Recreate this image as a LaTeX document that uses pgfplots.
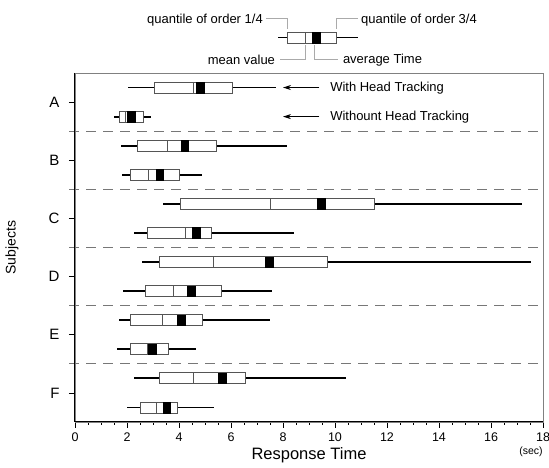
\documentclass[border=0pt]{standalone}
\usepackage{fontspec}
\setmainfont{Liberation Sans}
\usepackage{pgfplots}
\pgfplotsset{compat=1.18}
\usepgfplotslibrary{statistics}
\usetikzlibrary{arrows.meta}

\definecolor{boxedge}{HTML}{555555}
\definecolor{leader}{HTML}{AAAAAA}
\definecolor{dashline}{HTML}{777777}

\pgfplotsset{
  boxplot/draw direction=x,
  boxplot/every box/.style={draw=boxedge, fill=white, line width=0.8pt},
  boxplot/every median/.style={draw=boxedge, line width=0.8pt},
  boxplot/every whisker/.style={draw=black, line width=1.8pt},
}
% draw position, lower whisker, lower quartile, median, upper quartile, upper whisker
\newcommand{\bx}[6]{%
  \addplot[boxplot prepared={draw position=#1, lower whisker=#2, lower quartile=#3,
    median=#4, upper quartile=#5, upper whisker=#6, box extend=0.19, whisker extend=0}]
    coordinates {};}

\begin{document}
\begin{tikzpicture}
\useasboundingbox (-75pt,-46pt) rectangle (474pt,422pt);
\begin{axis}[
  at={(0,0)}, anchor=south west,
  scale only axis, width=468pt, height=349pt,
  xmin=0, xmax=18, ymin=0, ymax=6,
  clip=false,
  /pgf/number format/assume math mode=true,
  axis line style={draw=gray, line width=0.6pt},
  xtick={0,2,...,18}, minor x tick num=3,
  ytick={0.5,1.5,2.5,3.5,4.5,5.5}, yticklabels={F,E,D,C,B,A},
  xtick pos=bottom, ytick pos=left,
  tick align=outside, major tick length=6pt, minor tick length=3pt,
  tick style={black, line width=0.6pt},
  xticklabel style={font=\fontsize{12.5}{14}\selectfont, yshift=-1pt},
  yticklabel style={font=\fontsize{15}{17}\selectfont, xshift=-6pt},
  xlabel={Response Time}, ylabel={Subjects},
  xlabel style={font=\fontsize{16.5}{18}\selectfont, at={(axis description cs:0.5,-0.0966)}, anchor=center},
  ylabel style={font=\fontsize{14}{16}\selectfont, at={(axis description cs:-0.1346,0.5)}, anchor=center},
]
% group separators
\foreach \yy in {1,2,3,4,5}{
  \edef\tmp{\noexpand\draw[dashline, line width=0.8pt, dash pattern=on 10pt off 7pt]
    (axis cs:-0.23,\yy) -- (axis cs:18,\yy);}\tmp
}
% A
\bx{5.75}{2.03}{3.05}{4.56}{6.05}{7.73}
\bx{5.25}{1.51}{1.70}{1.94}{2.65}{2.91}
% B
\bx{4.75}{1.76}{2.40}{3.55}{5.44}{8.17}
\bx{4.25}{1.81}{2.14}{2.82}{4.01}{4.87}
% C
\bx{3.75}{3.40}{4.06}{7.53}{11.50}{17.19}
\bx{3.25}{2.27}{2.79}{4.24}{5.24}{8.42}
% D
\bx{2.75}{2.59}{3.26}{5.32}{9.69}{17.55}
\bx{2.25}{1.86}{2.69}{3.78}{5.62}{7.59}
% E
\bx{1.75}{1.69}{2.13}{3.37}{4.91}{7.51}
\bx{1.25}{1.63}{2.13}{2.78}{3.59}{4.65}
% F
\bx{0.75}{2.27}{3.26}{4.54}{6.55}{10.41}
\bx{0.25}{2.01}{2.50}{3.12}{3.95}{5.35}
% key above the axis
\bx{6.61}{7.82}{8.17}{8.87}{10.04}{10.90}
% average times
\addplot[only marks, mark=square*, mark size=5.3pt, mark options={black, xscale=0.72}]
  coordinates {
  (4.81,5.75) (2.15,5.25) (4.22,4.75) (3.26,4.25) (9.46,3.75) (4.65,3.25)
  (7.47,2.75) (4.47,2.25) (4.08,1.75) (2.97,1.25) (5.67,0.75) (3.53,0.25)
  (9.27,6.61)};
% key annotations
\draw[leader, line width=0.8pt] (axis cs:7.35,6.945) -- (axis cs:8.165,6.945) -- (axis cs:8.165,6.756);
\draw[leader, line width=0.8pt] (axis cs:10.04,6.756) -- (axis cs:10.04,6.945) -- (axis cs:10.885,6.945);
\draw[leader, line width=0.8pt] (axis cs:8.873,6.481) -- (axis cs:8.873,6.240) -- (axis cs:7.885,6.240);
\draw[leader, line width=0.8pt] (axis cs:9.204,6.481) -- (axis cs:9.204,6.240) -- (axis cs:10.115,6.240);
\begin{scope}[every node/.style={font=\fontsize{13}{15}\selectfont, inner sep=0pt}]
\node[anchor=east] at (axis cs:7.23,6.91) {quantile of order 1/4};
\node[anchor=west] at (axis cs:11.0,6.91) {quantile of order 3/4};
\node[anchor=east] at (axis cs:7.70,6.22) {mean value};
\node[anchor=west] at (axis cs:10.30,6.22) {average Time};
\node[anchor=west] at (axis cs:9.81,5.74) {With Head Tracking};
\node[anchor=west] at (axis cs:9.81,5.24) {Withount Head Tracking};
\end{scope}
\draw[black, line width=0.8pt, -{Stealth[length=8pt, width=5pt]}] (axis cs:9.40,5.75) -- (axis cs:8.0,5.75);
\draw[black, line width=0.8pt, -{Stealth[length=8pt, width=5pt]}] (axis cs:9.40,5.25) -- (axis cs:8.0,5.25);
\node[font=\fontsize{10.5}{12}\selectfont] at (axis cs:17.54,-0.52) {(sec)};
% darker left and bottom axis lines
\draw[black, line width=1pt] (rel axis cs:0,1) -- (rel axis cs:0,0) -- (rel axis cs:1,0);
\end{axis}
\end{tikzpicture}
\end{document}
